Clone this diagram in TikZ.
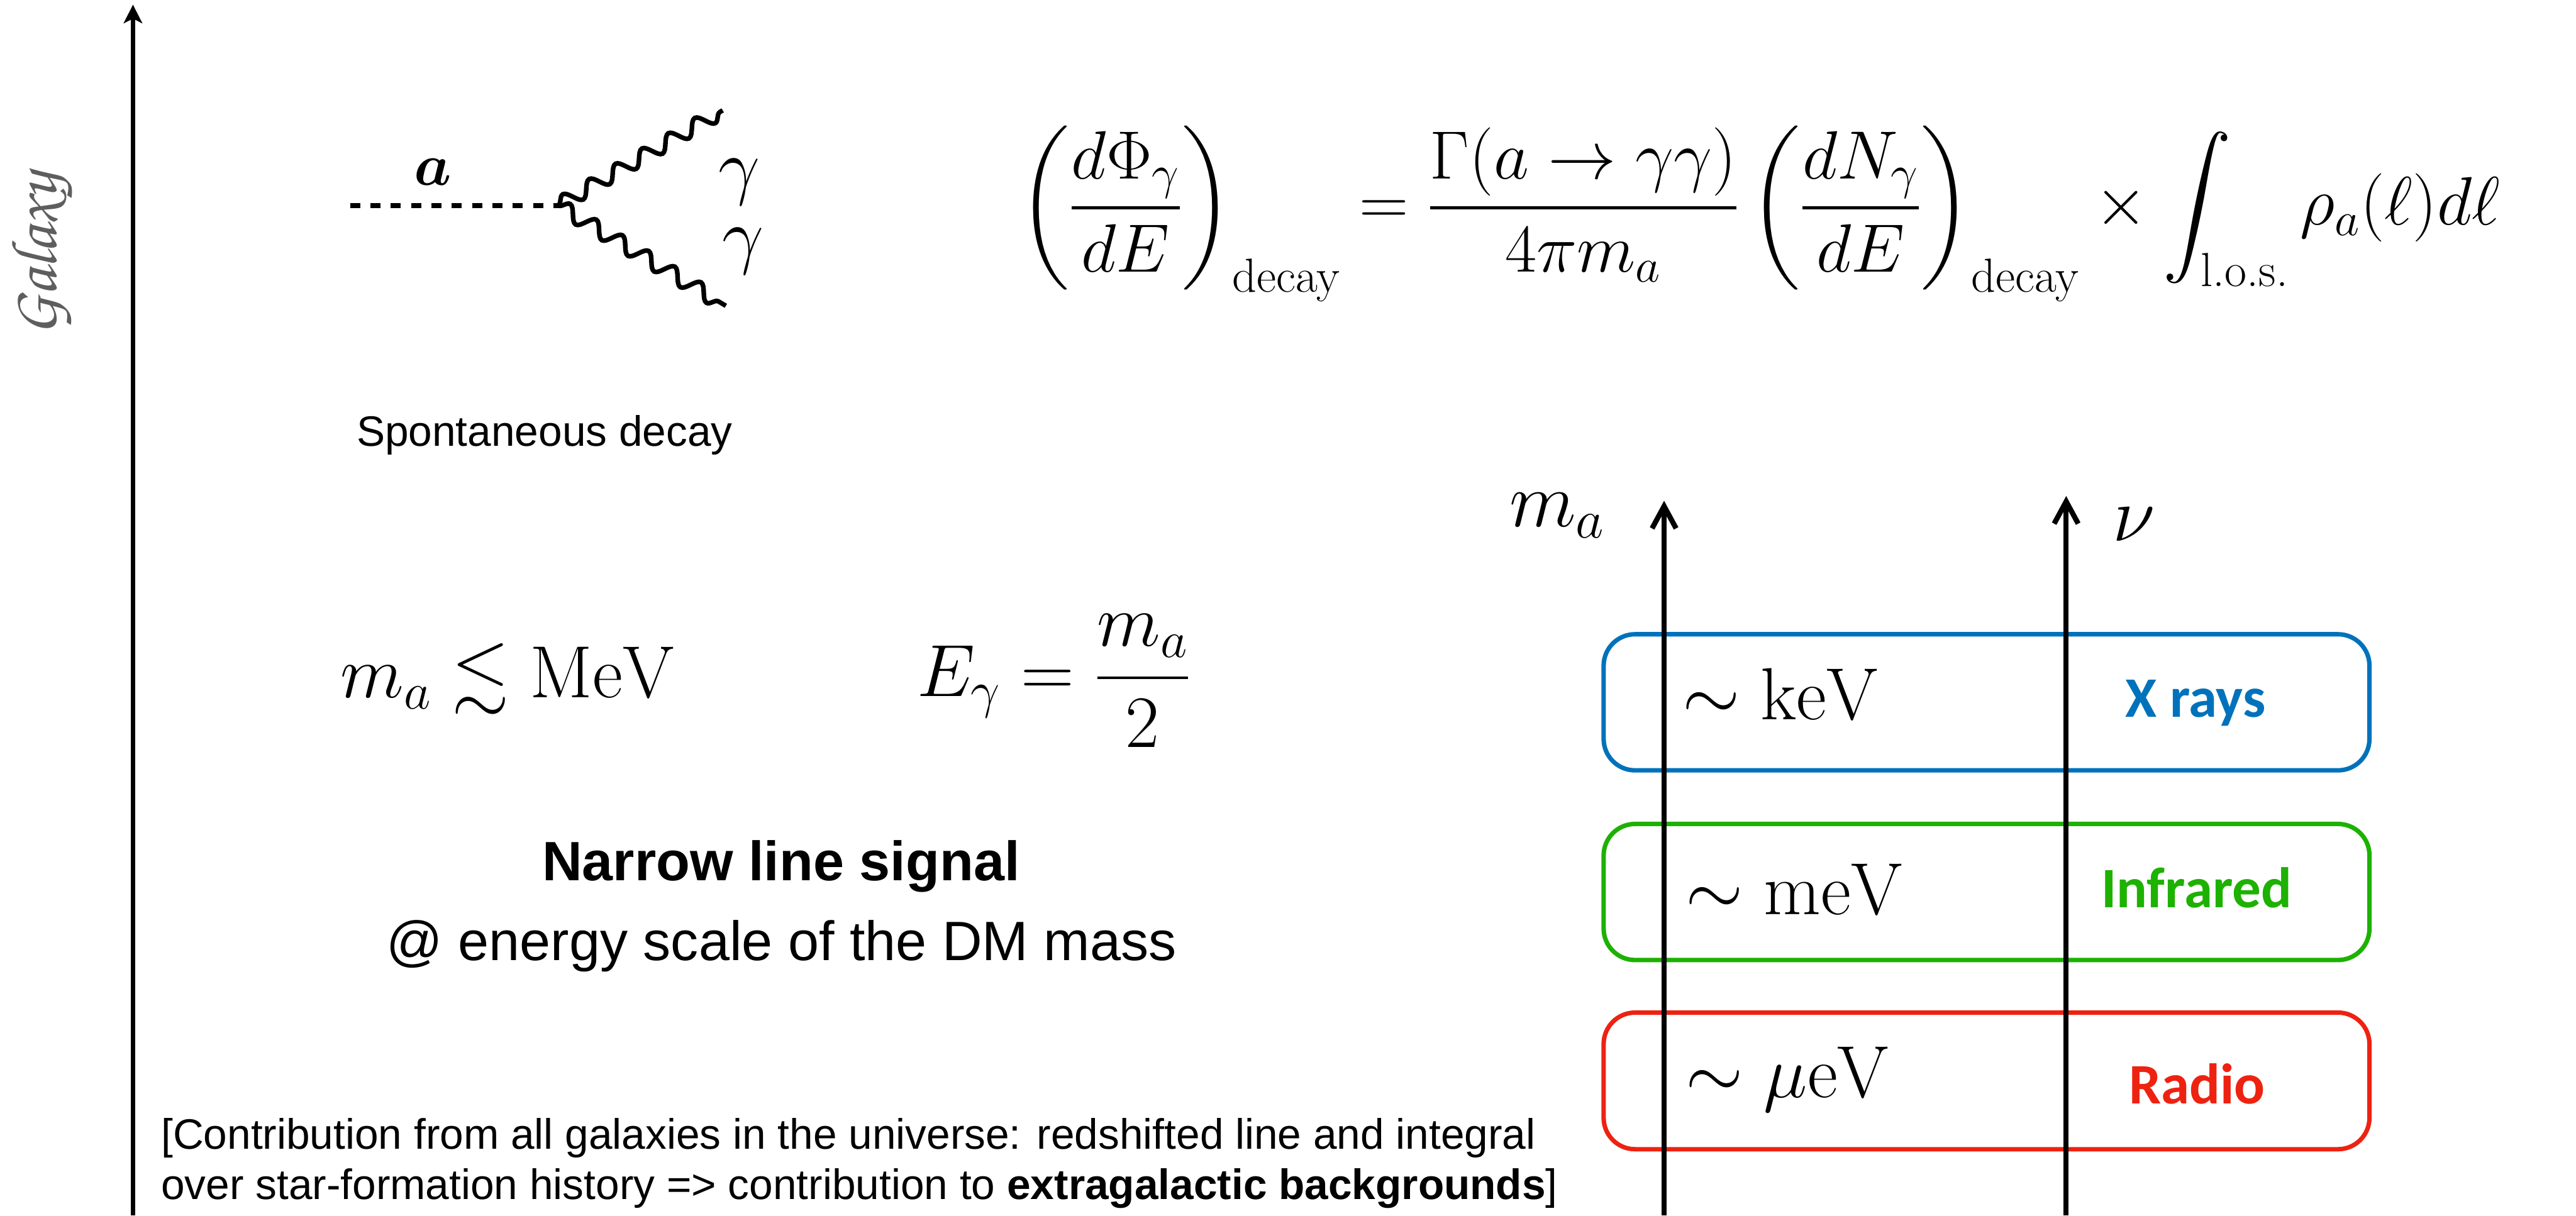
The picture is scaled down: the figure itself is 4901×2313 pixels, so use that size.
\RequirePackage{fix-cm}
\documentclass[tikz,border=0pt]{standalone}
\usepackage{amsmath,amssymb}
\usepackage{fontspec}
\setsansfont{Liberation Sans}
\newfontfamily\calibri{Carlito}
\usetikzlibrary{arrows.meta,decorations.pathmorphing}
\definecolor{azul}{RGB}{0,114,187}
\definecolor{verde}{RGB}{29,177,0}
\definecolor{vermelho}{RGB}{238,34,17}
\begin{document}
\begin{tikzpicture}[x=0.01cm,y=-0.01cm,
    every node/.style={inner sep=0pt},
    principal/.style={line width=2.4pt,-{Stealth[length=10pt,width=10pt,inset=2.5pt]}},
    eixo/.style={line width=2.8pt,-{Straight Barb[length=12pt,width=13pt]}},
    escalar/.style={line width=2.6pt,dash pattern=on 5.5pt off 5.5pt},
    foton/.style={line width=2.5pt,decorate,decoration={snake,amplitude=4pt,segment length=16.5pt}},
    caixa/.style={line width=2.4pt,rounded corners=17pt},
    texto/.style={font=\sffamily\fontsize{23}{27}\selectfont},
    destaque/.style={font=\sffamily\fontsize{30}{36}\selectfont},
    formula/.style={font=\fontsize{40}{48}\selectfont},
    faixa/.style={font=\calibri\bfseries\fontsize{31}{37}\selectfont}
]
\useasboundingbox (0,0) rectangle (4901,2313);

\coordinate (base) at (253,2313);
\coordinate (topo) at (253,9);
\draw[principal] (base) -- (topo);
\node[rotate=90,text=black!63,font=\fontencoding{OT1}\fontfamily{pzc}\fontseries{mb}\fontshape{it}\fontsize{35}{40}\selectfont] (galaxia) at (82,485) {Galaxy};

\coordinate (ini) at (666,391);
\coordinate (vert) at (1062,391);
\coordinate (fot1) at (1375,210);
\coordinate (fot2) at (1381,582);
\draw[escalar] (ini) -- (vert);
\draw[foton] (vert) -- (fot1);
\draw[foton] (vert) -- (fot2);
\node[font=\fontsize{32}{38}\selectfont] (axion) at (824,327) {$\boldsymbol{a}$};
\node[formula] (gama1) at (1407,347) {$\gamma$};
\node[formula] (gama2) at (1414,478) {$\gamma$};
\node[texto,anchor=base] (espont) at (1036,849) {Spontaneous decay};

\node[font=\fontsize{37}{44}\selectfont,anchor=base west] (fluxo) at (1938,428)
  {$\displaystyle \left(\frac{d\Phi_\gamma}{dE}\right)_{\text{decay}} = \frac{\Gamma(a\to\gamma\gamma)}{4\pi m_a}\left(\frac{dN_\gamma}{dE}\right)_{\text{decay}} \times \int_{\text{l.o.s.}} \rho_a(\ell)d\ell$};

\node[formula,anchor=base west] (limite) at (647,1328) {$m_a \lesssim \mathrm{MeV}$};
\node[formula,anchor=base west] (energia) at (1744,1325) {$\displaystyle E_\gamma = \frac{m_a}{2}$};

\node[destaque,anchor=base] (sinal) at (1486,1676) {\textbf{Narrow line signal}};
\node[destaque,anchor=base] (escala) at (1487,1828) {@ energy scale of the DM mass};

\node[texto,anchor=base west] (contrib1) at (306,2187) {[Contribution from all galaxies in the universe: redshifted line and integral};
\node[texto,anchor=base west] (contrib2) at (306,2282) {over star-formation history => contribution to \textbf{extragalactic backgrounds}]};

\draw[caixa,azul] (3051,1207) rectangle (4508,1466);
\draw[caixa,verde] (3051,1568) rectangle (4508,1827);
\draw[caixa,vermelho] (3051,1927) rectangle (4508,2187);

\coordinate (ma0) at (3166,2313);
\coordinate (ma1) at (3166,953);
\coordinate (nu0) at (3931,2313);
\coordinate (nu1) at (3931,944);
\draw[eixo] (ma0) -- (ma1);
\draw[eixo] (nu0) -- (nu1);
\node[font=\fontsize{42}{50}\selectfont,anchor=base west] (rotma) at (2871,1002) {$m_a$};
\node[font=\fontsize{42}{50}\selectfont,anchor=base west] (rotnu) at (4019,1030) {$\nu$};

\node[formula,anchor=base west] (kev) at (3201,1369) {$\sim \mathrm{keV}$};
\node[formula,anchor=base west] (mev) at (3207,1740) {$\sim \mathrm{meV}$};
\node[formula,anchor=base west] (muev) at (3207,2088) {$\sim \mu\mathrm{eV}$};
\node[faixa,text=azul,anchor=base] (raiox) at (4177,1365) {X rays};
\node[faixa,text=verde,anchor=base] (infra) at (4179,1727) {Infrared};
\node[faixa,text=vermelho,anchor=base] (radio) at (4180,2100) {Radio};
\end{tikzpicture}
\end{document}
